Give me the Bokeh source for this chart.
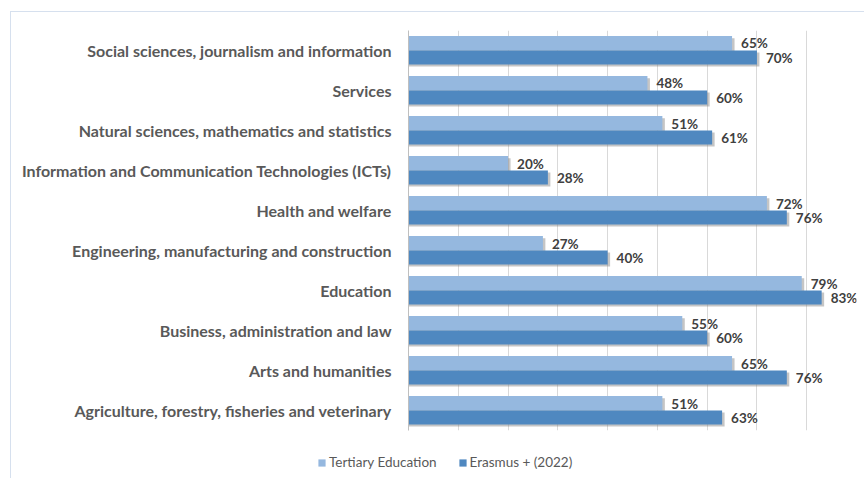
from bokeh.plotting import figure
from bokeh.layouts import column
from bokeh.models import ColumnDataSource, FactorRange, Range1d, Legend, LegendItem, InlineStyleSheet
from bokeh.transform import dodge
from bokeh.core.properties import value
from bokeh.embed import file_html
from bokeh.resources import INLINE

categories = [
    "Social sciences, journalism and information",
    "Services",
    "Natural sciences, mathematics and statistics",
    "Information and Communication Technologies (ICTs)",
    "Health and welfare",
    "Engineering, manufacturing and construction",
    "Education",
    "Business, administration and law",
    "Arts and humanities",
    "Agriculture, forestry, fisheries and veterinary",
]
tertiary = [65, 48, 51, 20, 72, 27, 79, 55, 65, 51]
erasmus = [70, 60, 61, 28, 76, 40, 83, 60, 76, 63]
series_names = ["Tertiary Education", "Erasmus + (2022)"]

LIGHT = "#95B8DF"
DARK = "#4F88C0"
FONT = "Lato"

src = ColumnDataSource(dict(
    cat=categories,
    t=tertiary,
    e=erasmus,
    t_sh=[v + 0.5 for v in tertiary],
    e_sh=[v + 0.5 for v in erasmus],
    t_lab=[f"{v}%" for v in tertiary],
    e_lab=[f"{v}%" for v in erasmus],
))

p = figure(
    width=865, height=448,
    y_range=FactorRange(*reversed(categories), range_padding=0),
    x_range=Range1d(0, 90),
    output_backend="svg", toolbar_location=None,
    min_border_left=408, min_border_right=9, min_border_top=30, min_border_bottom=18,
)
p.frame_align = False

p.outline_line_color = None
p.xaxis.visible = False
p.xgrid.ticker = list(range(0, 91, 10))
p.xgrid.grid_line_color = "#D9D9D9"
p.ygrid.grid_line_color = None

ya = p.yaxis[0]
ya.axis_line_color = "#BFBFBF"
ya.major_tick_line_color = None
ya.minor_tick_line_color = None
ya.major_label_text_font = FONT
ya.major_label_text_font_style = "bold"
ya.major_label_text_font_size = "16px"
ya.major_label_text_color = "#595959"
ya.major_label_standoff = 11

# shadows
p.hbar(y=dodge("cat", 0.175 - 0.05, range=p.y_range), right="t_sh", left=0, height=0.36,
       source=src, fill_color="#7F7F7F", fill_alpha=0.45, line_color=None)
p.hbar(y=dodge("cat", -0.175 - 0.05, range=p.y_range), right="e_sh", left=0, height=0.35,
       source=src, fill_color="#7F7F7F", fill_alpha=0.45, line_color=None)

p.hbar(y=dodge("cat", 0.18, range=p.y_range), right="t", left=0, height=0.36,
       source=src, fill_color=LIGHT, line_color=None)
p.hbar(y=dodge("cat", -0.175, range=p.y_range), right="e", left=0, height=0.35,
       source=src, fill_color=DARK, line_color=None)

for col, lab, off in (("t", "t_lab", 0.175), ("e", "e_lab", -0.175)):
    p.text(x=col, y=dodge("cat", off, range=p.y_range), text=lab, source=src,
           x_offset=9, text_baseline="middle", text_align="left",
           text_font=value(FONT), text_font_style="bold", text_font_size="13.5px",
           text_color="#404040")

# legend strip
lg = figure(
    width=865, height=31, x_range=Range1d(0, 1), y_range=Range1d(0, 1),
    output_backend="svg", toolbar_location=None,
    x_axis_location=None, y_axis_location=None,
    min_border_left=0, min_border_right=0, min_border_top=0, min_border_bottom=0,
)
lg.frame_align = False
lg.outline_line_color = None
lg.grid.visible = False
proxy = ColumnDataSource(dict(x=[float("nan")], y=[float("nan")]))
lr1 = lg.hbar(y="y", right="x", left=0, height=0.5, source=proxy, fill_color=LIGHT, line_color=None)
lr2 = lg.hbar(y="y", right="x", left=0, height=0.5, source=proxy, fill_color=DARK, line_color=None)
legend = Legend(
    items=[LegendItem(label=series_names[0], renderers=[lr1], index=0),
           LegendItem(label=series_names[1], renderers=[lr2], index=0)],
    orientation="horizontal", location=(317, 9),
    label_text_font=FONT, label_text_font_size="13.5px", label_text_color="#595959",
    glyph_width=9, glyph_height=9, label_standoff=3, spacing=21,
    padding=0, margin=0, border_line_color=None, background_fill_alpha=0,
    label_height=14,
)
lg.add_layout(legend, "center")

frame_css = InlineStyleSheet(css="""
:host::after {
  content: ""; position: absolute; left: 10px; top: 11px;
  width: 854px; height: 467px; box-sizing: border-box;
  border-left: 1px solid #D6E0EE; border-top: 1px solid #D6E0EE;
  pointer-events: none;
}
""")
layout = column(p, lg, spacing=0, stylesheets=[frame_css])

open("out.html", "w").write(file_html(layout, INLINE))
